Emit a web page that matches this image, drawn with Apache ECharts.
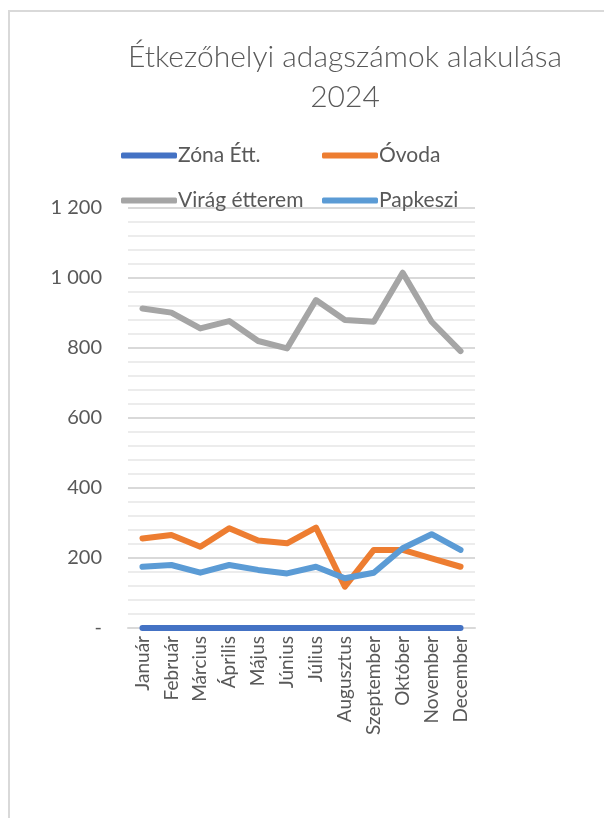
<!DOCTYPE html>
<html lang="hu">

<head>
    <meta charset="UTF-8">
    <title>Étkezőhelyi adagszámok alakulása 2024</title>
    <style>
        body { margin: 0; background: #fff; }
        #chart { position: absolute; left: 0; top: 0; width: 604px; height: 818px; }
        #frame { position: absolute; left: 8px; top: 10px; width: 600px; height: 820px;
                 border-top: 2px solid #d9d9d9; border-left: 2px solid #d9d9d9; pointer-events: none; }
    </style>
</head>

<body>
    <div id="chart"></div>
    <div id="frame"></div>
    <script src="https://cdn.jsdelivr.net/npm/echarts@6/dist/echarts.min.js"></script>
    <script>
        var months = ['Január', 'Február', 'Március', 'Április', 'Május', 'Június',
            'Július', 'Augusztus', 'Szeptember', 'Október', 'November', 'December']

        var zona = [0, 0, 0, 0, 0, 0, 0, 0, 0, 0, 0, 0]
        var ovoda = [256, 266, 232, 285, 250, 242, 287, 118, 223, 223, 199, 175]
        var virag = [913, 901, 856, 877, 820, 799, 937, 880, 875, 1015, 875, 791]
        var papkeszi = [175, 180, 158, 180, 166, 156, 175, 142, 158, 228, 268, 223]

        var textColor = '#595959'
        var font = 'Lato'

        function newSeries(name, color, inpData) {
            return {
                name: name,
                type: 'line',
                symbol: 'none',
                data: inpData,
                lineStyle: { width: 6, color: color, cap: 'round', join: 'round' },
                itemStyle: { color: color }
            }
        }

        function newLegend(name, left, top) {
            return {
                data: [name],
                left: left,
                top: top,
                icon: 'roundRect',
                itemWidth: 56,
                itemHeight: 6,
                itemGap: 0,
                textStyle: { color: textColor, fontFamily: font, fontSize: 21, padding: [0, 0, 0, -4] }
            }
        }

        var chart = echarts.init(document.getElementById('chart'))
        chart.setOption({
            animation: false,
            title: {
                text: 'Étkezőhelyi adagszámok alakulása\n2024',
                left: 340,
                top: 32,
                textAlign: 'center',
                textStyle: {
                    color: textColor, fontFamily: font, fontWeight: 300,
                    fontSize: 30, lineHeight: 40
                }
            },
            legend: [
                newLegend('Zóna Étt.', 116, 140),
                newLegend('Óvoda', 317, 140),
                newLegend('Virág étterem', 116, 185),
                newLegend('Papkeszi', 317, 185)
            ],
            grid: { left: 128, right: 129, top: 208, bottom: 190, containLabel: false },
            xAxis: {
                type: 'category',
                data: months,
                boundaryGap: true,
                axisTick: { show: false },
                axisLine: { lineStyle: { color: '#d9d9d9', width: 2 } },
                axisLabel: { rotate: 90, color: textColor, fontFamily: font, fontSize: 19, margin: 8, interval: 0 }
            },
            yAxis: {
                type: 'value',
                min: 0,
                max: 1200,
                interval: 200,
                axisLine: { show: false },
                axisTick: { show: false },
                axisLabel: {
                    color: textColor, fontFamily: font, fontSize: 20, margin: 26,
                    formatter: function (v) {
                        if (v === 0) return '-'
                        return String(v).replace(/\B(?=(\d{3})+(?!\d))/g, ' ')
                    }
                },
                splitLine: { lineStyle: { color: '#d9d9d9', width: 2 } },
                minorTick: { show: false, splitNumber: 5 },
                minorSplitLine: { show: true, lineStyle: { color: '#ececec', width: 2 } }
            },
            series: [
                newSeries('Zóna Étt.', '#4472C4', zona),
                newSeries('Óvoda', '#ED7D31', ovoda),
                newSeries('Virág étterem', '#A5A5A5', virag),
                newSeries('Papkeszi', '#5B9BD5', papkeszi)
            ]
        })
    </script>
</body>

</html>
